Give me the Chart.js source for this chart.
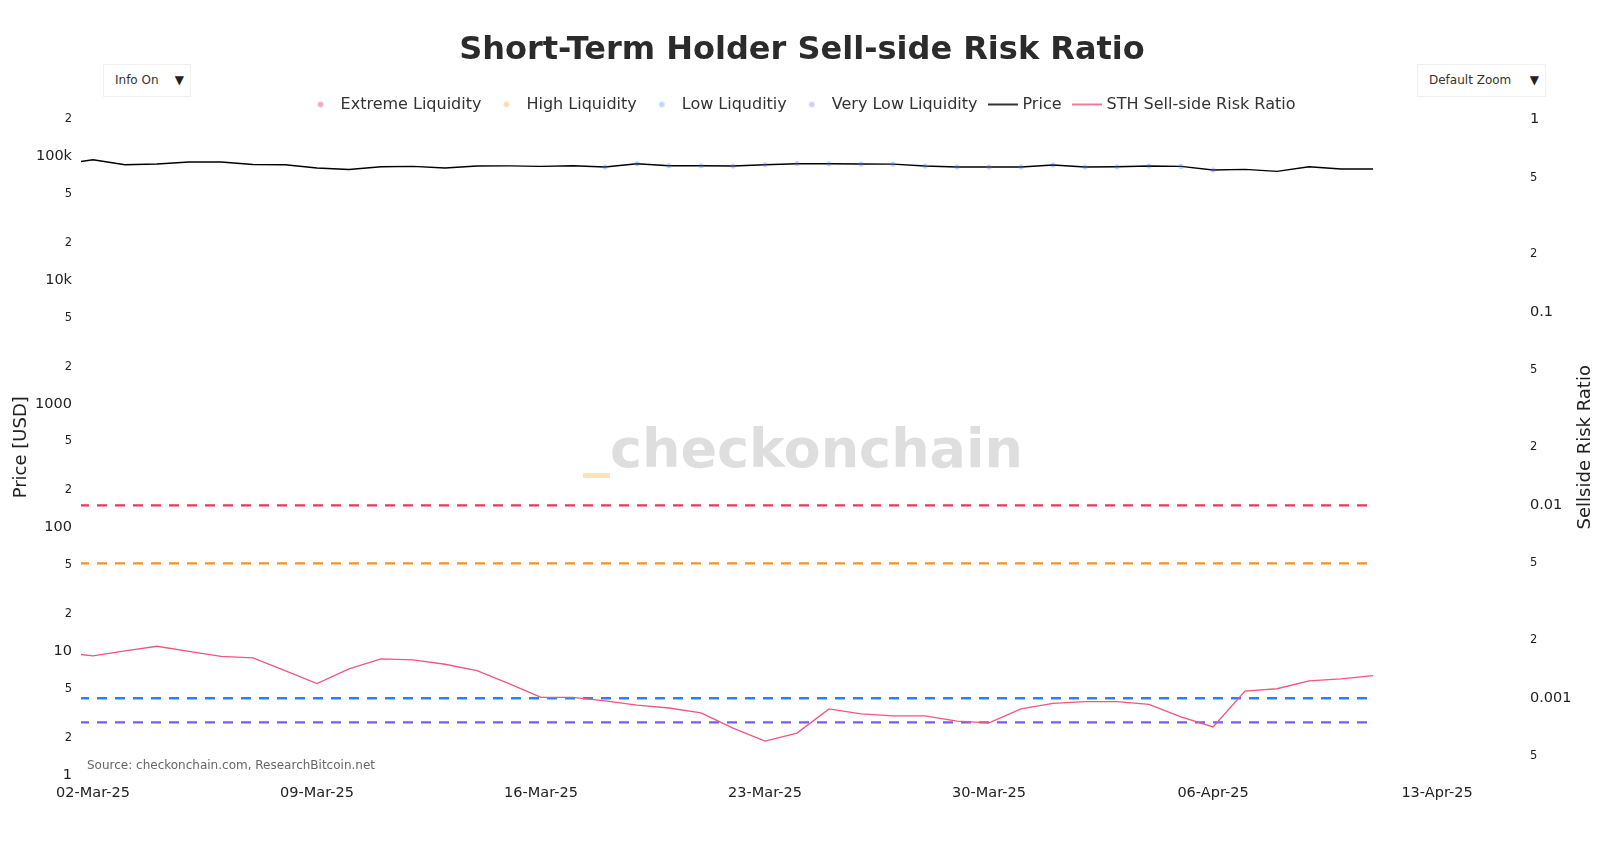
<!DOCTYPE html>
<html lang="en">
<head>
<meta charset="utf-8">
<title>Short-Term Holder Sell-side Risk Ratio</title>
<script src="https://cdn.jsdelivr.net/npm/chart.js@4.4.1/dist/chart.umd.min.js"></script>
<style>
  html, body { margin: 0; padding: 0; background: #fff; }
  #bungkus { position: relative; width: 1604px; height: 842px; }
  .menu {
    position: absolute; top: 64px; height: 33px; box-sizing: border-box;
    border: 1px solid #efefef; background: #fff; color: #333;
    font: 12px "DejaVu Sans", Verdana, sans-serif; line-height: 31px; padding-left: 11px;
  }
  .menu .panah { position: absolute; right: 6px; top: 0; font-size: 12px; color: #222; }
</style>
</head>
<body>
<div id="bungkus">
  <canvas id="grafikRasio"></canvas>
  <div class="menu" style="left:103px; width:88px;">Info On<span class="panah">▼</span></div>
  <div class="menu" style="left:1417px; width:129px;">Default Zoom<span class="panah">▼</span></div>
</div>
<script>
// Data harian
const tanggal = [
  "2025-03-01", "2025-03-02", "2025-03-03", "2025-03-04", "2025-03-05", "2025-03-06", "2025-03-07",
  "2025-03-08", "2025-03-09", "2025-03-10", "2025-03-11", "2025-03-12", "2025-03-13", "2025-03-14",
  "2025-03-15", "2025-03-16", "2025-03-17", "2025-03-18", "2025-03-19", "2025-03-20", "2025-03-21",
  "2025-03-22", "2025-03-23", "2025-03-24", "2025-03-25", "2025-03-26", "2025-03-27", "2025-03-28",
  "2025-03-29", "2025-03-30", "2025-03-31", "2025-04-01", "2025-04-02", "2025-04-03", "2025-04-04",
  "2025-04-05", "2025-04-06", "2025-04-07", "2025-04-08", "2025-04-09", "2025-04-10", "2025-04-11",
];
const harga = [
  86800, 94500, 86100, 87300, 90600, 90600, 86600,
  86100, 81000, 78900, 83000, 83500, 81000, 84100,
  84300, 83500, 84500, 82500, 87800, 84500, 84500,
  84100, 86100, 87800, 87700, 87300, 87200, 84100,
  82500, 82500, 82500, 85700, 82500, 83000, 84100,
  83500, 78100, 79000, 76100, 83000, 79500, 79500,
];
const rasio = [
  0.00173, 0.00166, 0.00176, 0.00186, 0.00175, 0.00165, 0.00162,
  0.00139, 0.00119, 0.00142, 0.00160, 0.00158, 0.00150, 0.00139,
  0.00119, 0.00101, 0.00101, 0.00097, 0.00092, 0.00089, 0.00084,
  0.00070, 0.00060, 0.00066, 0.00088, 0.00083, 0.00081, 0.00081,
  0.00076, 0.000745, 0.00088, 0.00094, 0.00096, 0.00096, 0.00093,
  0.00080, 0.00071, 0.00109, 0.00112, 0.00123, 0.00126, 0.00131,
];

// Ambang likuiditas (sumbu kanan)
const namaZona = ["Extreme Liquidity", "High Liquidity", "Low Liquditiy", "Very Low Liquidity"];
const ambang = [0.01, 0.005, 0.001, 0.00075];

// Label sumbu
const labelX = ["02-Mar-25", "09-Mar-25", "16-Mar-25", "23-Mar-25", "30-Mar-25", "06-Apr-25", "13-Apr-25"];
const tickKiri = [1, 2, 5, 10, 20, 50, 100, 200, 500, 1000, 2000, 5000, 10000, 20000, 50000, 100000, 200000];
const labelKiri = ["1", "2", "5", "10", "2", "5", "100", "2", "5", "1000", "2", "5", "10k", "2", "5", "100k", "2"];
const tickKanan = [0.0005, 0.001, 0.002, 0.005, 0.01, 0.02, 0.05, 0.1, 0.2, 0.5, 1];
const labelKanan = ["5", "0.001", "2", "5", "0.01", "2", "5", "0.1", "2", "5", "1"];

const FONT = '"DejaVu Sans", Verdana, sans-serif';
const warnaGaris = ["#e8385f", "#f7931a", "#2f80f7", "#7b5cf0"];
const warnaTitik = ["rgba(232,56,95,0.45)", "rgba(247,147,26,0.35)", "rgba(47,128,247,0.32)", "rgba(123,92,240,0.32)"];
const warnaHarga = "#000000";
const warnaRasio = "#f2557f";

// Hari dihitung dari 02-Mar-25
const BULAN = ["Jan", "Feb", "Mar", "Apr", "May", "Jun", "Jul", "Aug", "Sep", "Oct", "Nov", "Dec"];
const AWAL = Date.UTC(2025, 2, 2);
const keHari = (iso) => (Date.parse(iso) - AWAL) / 864e5;
const labelKeHari = (s) => {
  const [d, m, y] = s.split("-");
  return (Date.UTC(2000 + Number(y), BULAN.indexOf(m), Number(d)) - AWAL) / 864e5;
};
const desimal = (v) => Math.abs(Math.log10(v) - Math.round(Math.log10(v))) < 1e-9;

const titikHarga = tanggal.map((t, i) => ({ x: keHari(t), y: harga[i] }));
const titikRasio = tanggal.map((t, i) => ({ x: keHari(t), y: rasio[i] }));
const zona = (lolos) => tanggal.map((t, i) => ({ x: keHari(t), y: harga[i], r: rasio[i] })).filter((p) => lolos(p.r));
const titikZona = [
  zona((r) => r > ambang[0]),
  zona((r) => r > ambang[1] && r <= ambang[0]),
  zona((r) => r < ambang[2] && r >= ambang[3]),
  zona((r) => r < ambang[3]),
];

// Simbol legenda: titik dan garis seperti plotly
function simbolTitik(warna) {
  const c = document.createElement("canvas");
  c.width = 10; c.height = 10;
  const g = c.getContext("2d");
  g.fillStyle = warna;
  g.beginPath(); g.arc(5, 5, 2.8, 0, Math.PI * 2); g.fill();
  return c;
}
function simbolGaris(warna) {
  const c = document.createElement("canvas");
  c.width = 30; c.height = 4;
  const g = c.getContext("2d");
  g.strokeStyle = warna; g.lineWidth = 1.6;
  g.beginPath(); g.moveTo(0, 2); g.lineTo(30, 2); g.stroke();
  return c;
}
const simbolLegenda = [...warnaTitik.map(simbolTitik), simbolGaris(warnaHarga), simbolGaris(warnaRasio)];

// Watermark, sumber, dan judul sumbu kanan
const hiasan = {
  id: "hiasan",
  beforeDatasetsDraw(chart) {
    const { ctx, chartArea: a } = chart;
    ctx.save();
    ctx.font = `bold 54px ${FONT}`;
    ctx.textBaseline = "alphabetic";
    const wG = ctx.measureText("_").width;
    const wT = ctx.measureText("checkonchain").width;
    const x0 = (a.left + a.right) / 2 + 2 - (wG + wT) / 2;
    const y0 = (a.top + a.bottom) / 2 + 20;
    ctx.fillStyle = "rgba(247,160,40,0.3)";
    ctx.fillText("_", x0, y0 - 2);
    ctx.fillStyle = "#dedede";
    ctx.fillText("checkonchain", x0 + wG, y0);
    ctx.restore();
  },
  afterDraw(chart) {
    const { ctx, chartArea: a } = chart;
    ctx.save();
    ctx.font = `12px ${FONT}`;
    ctx.fillStyle = "#666";
    ctx.textBaseline = "middle";
    ctx.fillText("Source: checkonchain.com, ResearchBitcoin.net", a.left + 6, a.bottom - 9);
    ctx.translate(chart.width - 18.5, (a.top + a.bottom) / 2);
    ctx.rotate(-Math.PI / 2);
    ctx.font = `18px ${FONT}`;
    ctx.fillStyle = "#222";
    ctx.textAlign = "center";
    ctx.fillText("Sellside Risk Ratio", 0, 0);
    ctx.restore();
  },
};

const fontTick = (c) => ({ family: FONT, size: c.tick && desimal(c.tick.value) ? 14.5 : 11.5 });

new Chart(document.getElementById("grafikRasio"), {
  type: "line",
  data: {
    datasets: [
      ...titikZona.map((data, i) => ({
        label: namaZona[i],
        data,
        yAxisID: "y",
        showLine: false,
        pointRadius: 2.6,
        pointBorderWidth: 0,
        pointBackgroundColor: warnaTitik[i],
        backgroundColor: warnaTitik[i],
        borderColor: warnaTitik[i],
      })),
      { label: "Price", data: titikHarga, yAxisID: "y", borderColor: warnaHarga, borderWidth: 1.4, pointRadius: 0 },
      { label: "STH Sell-side Risk Ratio", data: titikRasio, yAxisID: "y1", borderColor: warnaRasio, borderWidth: 1.3, pointRadius: 0 },
      ...ambang.map((a, i) => ({
        label: namaZona[i] + " level",
        data: [{ x: keHari(tanggal[0]), y: a }, { x: keHari(tanggal[tanggal.length - 1]), y: a }],
        yAxisID: "y1",
        borderColor: warnaGaris[i],
        borderWidth: 2.3,
        borderDash: [10, 8],
        pointRadius: 0,
      })),
    ],
  },
  options: {
    responsive: true,
    maintainAspectRatio: false,
    animation: false,
    events: [],
    layout: { padding: 0 },
    plugins: {
      tooltip: { enabled: false },
      title: {
        display: true,
        text: "Short-Term Holder Sell-side Risk Ratio",
        color: "#2b2b2b",
        font: { family: FONT, size: 32, weight: "bold" },
        padding: { top: 31.5, bottom: 13.6 },
      },
      legend: {
        position: "top",
        maxHeight: 36,
        labels: {
          usePointStyle: true,
          pointStyleWidth: 24,
          padding: 13,
          color: "#333",
          font: { family: FONT, size: 16 },
          generateLabels: (chart) =>
            Chart.defaults.plugins.legend.labels.generateLabels(chart).map((item) => ({
              ...item,
              pointStyle: simbolLegenda[item.datasetIndex],
            })),
          filter: (item) => item.datasetIndex < 6,
        },
      },
    },
    scales: {
      x: {
        type: "linear",
        min: -0.375,
        max: 44.625,
        grid: { display: false, drawTicks: false },
        border: { display: false },
        afterBuildTicks: (s) => { s.ticks = labelX.map((l) => ({ value: labelKeHari(l) })); },
        afterFit: (s) => { s.height = 67; },
        ticks: {
          autoSkip: false,
          maxRotation: 0,
          padding: 10,
          color: "#222",
          font: { family: FONT, size: 14.5 },
          callback: (v) => labelX.find((l) => labelKeHari(l) === v) || "",
        },
      },
      y: {
        type: "logarithmic",
        position: "left",
        min: 1,
        max: 200000,
        grid: { display: false, drawTicks: false },
        border: { display: false },
        afterBuildTicks: (s) => { s.ticks = tickKiri.map((v) => ({ value: v })); },
        afterFit: (s) => { s.width = 81; },
        ticks: {
          autoSkip: false,
          padding: 9,
          color: "#222",
          font: fontTick,
          callback: (v) => labelKiri[tickKiri.indexOf(v)],
        },
        title: {
          display: true,
          text: "Price [USD]",
          color: "#222",
          font: { family: FONT, size: 18 },
          padding: { top: 10.7, bottom: 0 },
        },
      },
      y1: {
        type: "logarithmic",
        position: "right",
        min: 0.0004,
        max: 1,
        grid: { display: false, drawTicks: false },
        border: { display: false },
        afterBuildTicks: (s) => { s.ticks = tickKanan.map((v) => ({ value: v })); },
        afterFit: (s) => { s.width = 83; },
        ticks: {
          autoSkip: false,
          padding: 9,
          color: "#222",
          font: fontTick,
          callback: (v) => labelKanan[tickKanan.indexOf(v)],
        },
      },
    },
  },
  plugins: [hiasan],
});
</script>
</body>
</html>
